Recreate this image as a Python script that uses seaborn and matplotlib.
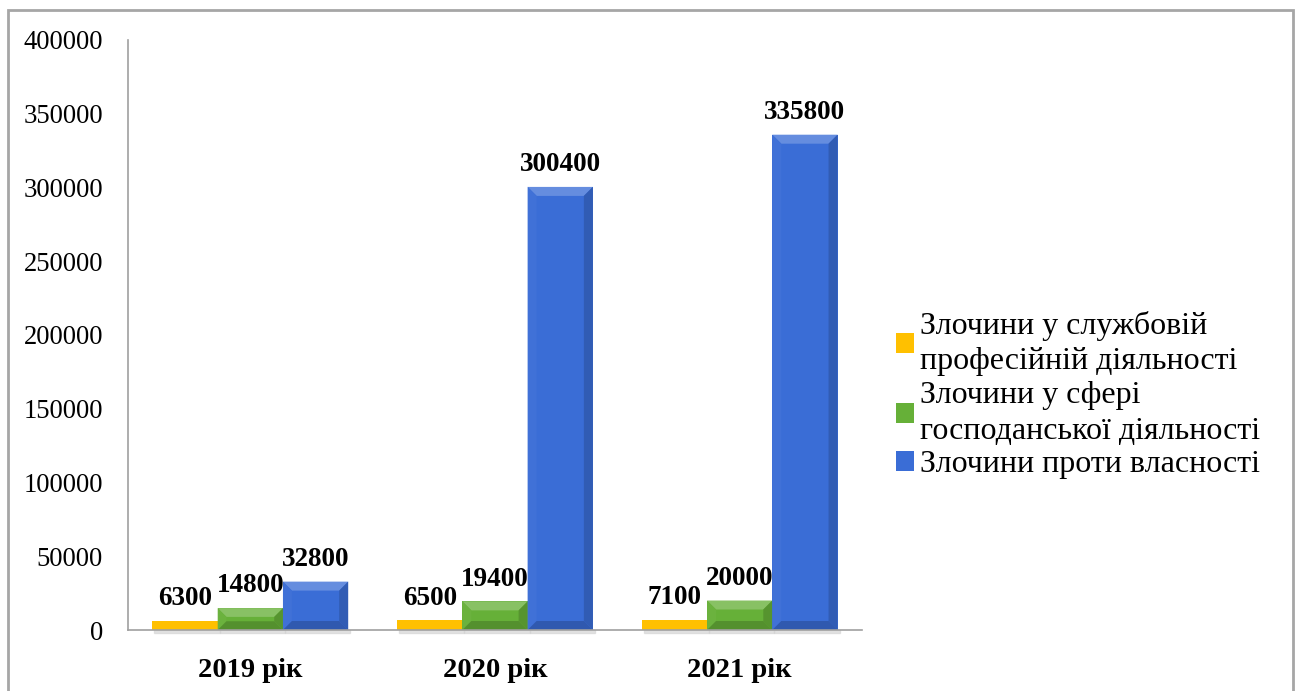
import matplotlib
matplotlib.use("Agg")
import matplotlib.pyplot as plt
import matplotlib.patches as mpatches
from matplotlib.colors import to_rgb
import seaborn as sns
import pandas as pd

# Data
years = ["2019 рік", "2020 рік", "2021 рік"]
series = [
    "Злочини у службовій\nпрофесійній діяльності",
    "Злочини у сфері\nгосподанської діяльності",
    "Злочини проти власності",
]
official = [6300, 6500, 7100]
economic = [14800, 19400, 20000]
property_crimes = [32800, 300400, 335800]
y_ticks = [0, 50000, 100000, 150000, 200000, 250000, 300000, 350000, 400000]

colors = ["#FFC000", "#66B038", "#3A6DD6"]

df = pd.DataFrame({
    "year": years * 3,
    "series": [series[0]] * 3 + [series[1]] * 3 + [series[2]] * 3,
    "value": official + economic + property_crimes,
})

sns.set_theme(style="white")
plt.rcParams["font.family"] = ["Liberation Serif", "DejaVu Serif"]
plt.rcParams["text.color"] = "black"
plt.rcParams["xtick.color"] = "black"
plt.rcParams["ytick.color"] = "black"

W, H = 1298, 691
fig = plt.figure(figsize=(W / 100, H / 100), dpi=100)
ax = fig.add_axes([128 / W, 1 - 630 / H, (862 - 128) / W, (630 - 40) / H])

sns.barplot(data=df, x="year", y="value", hue="series", hue_order=series,
            palette=colors, width=0.8, ax=ax, legend=False, saturation=1,
            linewidth=0)

ax.set_ylim(0, 400000)
ax.set_xlim(-0.5, 2.5)
ax.set_yticks(y_ticks)
ax.set_yticklabels([str(t) for t in y_ticks], fontsize=19.2)
ax.tick_params(axis="y", length=0, pad=18)
ax.tick_params(axis="x", length=0, pad=20)
for lbl in ax.get_xticklabels():
    lbl.set_fontsize(20.5)
    lbl.set_fontweight("bold")
ax.set_xlabel("")
ax.set_ylabel("")
for side in ["top", "right"]:
    ax.spines[side].set_visible(False)
for side in ["left", "bottom"]:
    ax.spines[side].set_color("#A0A0A0")
    ax.spines[side].set_linewidth(1.2)

# Bevel shading on each bar, sized in pixels
ax_w_px = (862 - 128)
ax_h_px = (630 - 40)
px_x = 3.0 / ax_w_px
px_y = 400000 / ax_h_px


def shade(c, f):
    r, g, b = to_rgb(c)
    if f > 1:
        return tuple(min(1, v + (1 - v) * (f - 1)) for v in (r, g, b))
    return tuple(v * f for v in (r, g, b))


bars = [p for p in ax.patches if isinstance(p, mpatches.Rectangle) and p.get_height() > 0]
for p in bars:
    x0, w, h = p.get_x(), p.get_width(), p.get_height()
    x1 = x0 + w
    base = p.get_facecolor()
    # soft shadow underneath
    ax.add_patch(mpatches.Rectangle((x0 + 2 * px_x, -3 * px_y), w, 3 * px_y,
                                    color=(0.82, 0.82, 0.82), zorder=p.get_zorder() - 0.5,
                                    clip_on=False, alpha=0.6))
    hp = h / px_y
    if hp < 18:
        continue
    b = min(9, hp / 2.5)
    bx = b * px_x
    by = b * px_y
    top = [(x0, h), (x1, h), (x1 - bx, h - by), (x0 + bx, h - by)]
    left = [(x0, 0), (x0, h), (x0 + bx, h - by), (x0 + bx, by)]
    right = [(x1, 0), (x1, h), (x1 - bx, h - by), (x1 - bx, by)]
    bottom = [(x0, 0), (x1, 0), (x1 - bx, by), (x0 + bx, by)]
    for poly, f in [(top, 1.22), (left, 1.03), (right, 0.84), (bottom, 0.82)]:
        ax.add_patch(mpatches.Polygon(poly, closed=True, facecolor=shade(base, f),
                                      edgecolor="none", zorder=p.get_zorder() + 0.1))

# Value labels
for cont in ax.containers:
    ax.bar_label(cont, fmt="%d", padding=7, fontsize=19.5, fontweight="bold",
                 color="black")

# Legend
handles = [mpatches.Patch(facecolor=c, edgecolor="none") for c in colors]
leg = fig.legend(handles, series, loc="center left", bbox_to_anchor=(896 / W, 1 - 395 / H),
                 frameon=False, fontsize=23, handlelength=0.56, handleheight=0.56,
                 handletextpad=0.2, labelspacing=0.15, borderaxespad=0, borderpad=0)
for t in leg.get_texts():
    t.set_linespacing(1.3)

# Outer frame
fig.add_artist(mpatches.Rectangle((8 / W, -0.01), (1293 - 8) / W, 1 - 10 / H + 0.01,
                                  transform=fig.transFigure, fill=False,
                                  edgecolor="#A6A6A6", linewidth=2))

fig.savefig("out.png", dpi=100)
